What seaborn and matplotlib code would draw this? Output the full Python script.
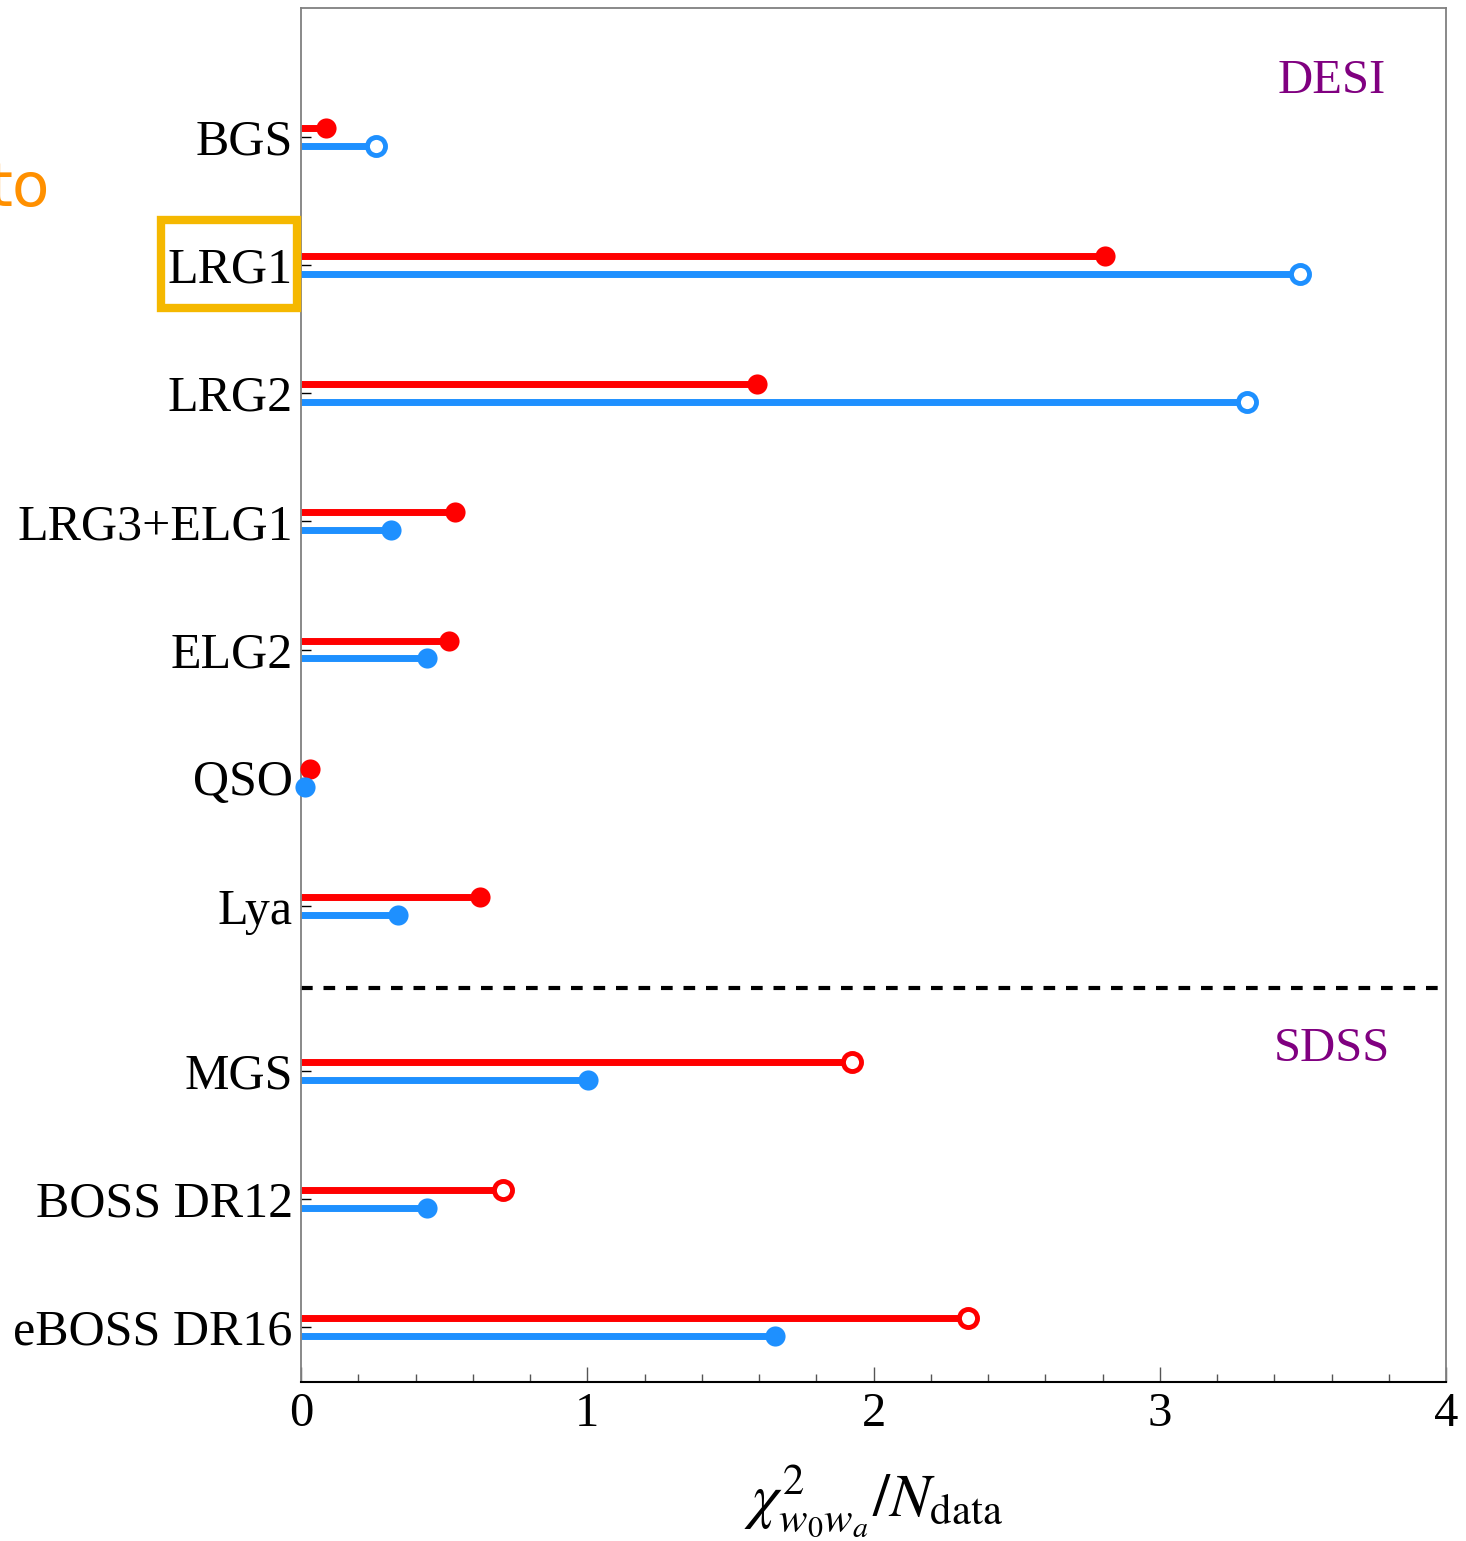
import numpy as np
import matplotlib
matplotlib.use('Agg')
import matplotlib.pyplot as plt
from matplotlib.patches import Rectangle
from matplotlib.ticker import MultipleLocator
import seaborn as sns

sns.set_style('white')
plt.rcParams['font.family'] = ['Liberation Serif', 'DejaVu Serif']
plt.rcParams['mathtext.fontset'] = 'stix'
plt.rcParams['text.color'] = 'black'
plt.rcParams['axes.labelcolor'] = 'black'

# data
desi_names = ['BGS', 'LRG1', 'LRG2', 'LRG3+ELG1', 'ELG2', 'QSO', 'Lya']
sdss_names = ['MGS', 'BOSS DR12', 'eBOSS DR16']
red_vals = [0.087, 2.81, 1.593, 0.538, 0.517, 0.031, 0.625, 1.925, 0.706, 2.33]
blue_vals = [0.262, 3.49, 3.305, 0.314, 0.44, 0.014, 0.339, 1.003, 0.44, 1.656]
red_open = [False, False, False, False, False, False, False, True, True, True]
blue_open = [True, True, True, False, False, False, False, False, False, False]

names = desi_names + sdss_names
gap = 0.287  # extra space between DESI and SDSS blocks
ypos = np.array([i if i < len(desi_names) else i + gap for i in range(len(names))])
off = 0.07

RED = '#FF0000'
BLUE = '#1E90FF'

fig = plt.figure(figsize=(14.66, 15.41), dpi=100)
ax = fig.add_axes([301 / 1466, 1 - 1382 / 1541, 1145 / 1466, 1374 / 1541])

for vals, opens, color, dy in [(red_vals, red_open, RED, -off), (blue_vals, blue_open, BLUE, off)]:
    yy = ypos + dy
    ax.hlines(yy, 0, vals, color=color, lw=5, zorder=2)
    for x, y, o in zip(vals, yy, opens):
        ax.plot(x, y, 'o', ms=13 if o else 14.5, mec=color,
                mfc='white' if o else color, mew=3.5 if o else 0, zorder=3, clip_on=False)

# separator between DESI and SDSS
ax.axhline(len(desi_names) - 1 + 0.64, color='black', lw=3, dashes=(2.8, 2.6), zorder=1)

ax.set_xlim(0, 4)
ax.set_ylim(9.716, -1.006)
ax.set_yticks(ypos)
ax.set_yticklabels(names, fontsize=36)
ax.xaxis.set_major_locator(MultipleLocator(1))
ax.xaxis.set_minor_locator(MultipleLocator(0.2))
ax.tick_params(axis='x', which='major', direction='in', length=11, width=1, color='#555555',
               labelsize=35, labelcolor='black', pad=7, bottom=True, top=False)
ax.tick_params(axis='x', which='minor', direction='in', length=6, width=1, color='#555555',
               bottom=True, top=False)
ax.tick_params(axis='y', which='major', direction='in', length=7, width=1, color='black',
               labelcolor='black', pad=6, left=True, right=False)

for side in ['left', 'top', 'right']:
    ax.spines[side].set_color('#808080')
    ax.spines[side].set_linewidth(1.3)
ax.spines['bottom'].set_color('black')
ax.spines['bottom'].set_linewidth(1.5)

ax.set_xlabel(r'$\chi^2_{w_0w_a}/N_{\rm data}$', fontsize=44, labelpad=20)

ax.text(3.6, -0.44, 'DESI', color='#800080', fontsize=35, ha='center', va='center')
ax.text(3.6, 7.12, 'SDSS', color='#800080', fontsize=35, ha='center', va='center')

# highlight box around LRG1 label
fig.patches.append(Rectangle((161 / 1466, 1 - 308 / 1541), 136 / 1466, 88 / 1541,
                             transform=fig.transFigure, fill=False, lw=6,
                             edgecolor='#F5B800', zorder=5))
fig.text(50 / 1466, 1 - 206 / 1541, 'to', ha='right', va='baseline', color='#FF9000',
         fontsize=44, family='DejaVu Sans')

fig.savefig('out.png', dpi=100)
